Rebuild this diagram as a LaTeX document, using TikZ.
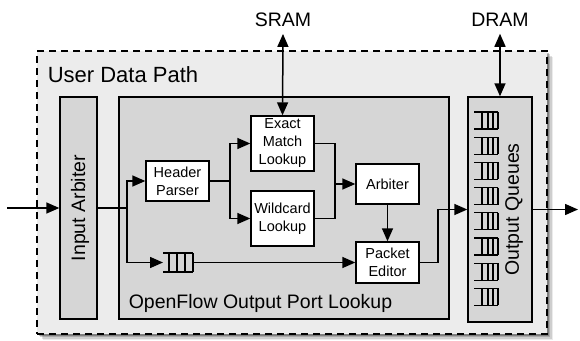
\documentclass[tikz,border=0pt]{standalone}
\usepackage{fontspec}
\setmainfont{Liberation Sans}
\usetikzlibrary{arrows.meta}
\definecolor{outerbg}{RGB}{236,236,236}
\definecolor{innerbg}{RGB}{214,214,214}
\begin{document}
\begin{tikzpicture}[x=1pt,y=-1pt,line width=1.5pt,
  lbl/.style={font=\fontsize{19.5}{23}\selectfont},
  title/.style={font=\fontsize{22}{26}\selectfont},
  bigbox/.style={draw=black,fill=innerbg,line width=1.4pt,inner sep=0pt},
  smallbox/.style={draw=black,fill=white,line width=1.4pt,inner sep=0pt,
    minimum width=63pt,align=center,font=\fontsize{14.5}{18}\selectfont},
  arr/.style={-{Triangle[length=13pt,width=11pt]}},
  dbl/.style={{Triangle[length=13pt,width=11pt]}-{Triangle[length=13pt,width=11pt]}},
  qline/.style={line width=1.3pt}]
\useasboundingbox (0,0) rectangle (580,340);
% shadow
\foreach \d/\o in {6/0.08,4.5/0.12,3/0.18,1.5/0.25}
  \fill[black,opacity=\o] (37+\d,51+\d) rectangle (547+\d,334+\d);
% outer dashed box
\node[draw=black,fill=outerbg,dash pattern=on 7pt off 5pt,line width=1.4pt,
  minimum width=510pt,minimum height=283pt,inner sep=0pt] (udp) at (292,192.5) {};
\node[title,anchor=base west,inner sep=0pt] (udpl) at (47,82) {User Data Path};
% big blocks
\node[bigbox,minimum width=37pt,minimum height=222pt] (ia) at (78.5,208) {};
\node[lbl,rotate=90] (ial) at (80,208) {Input Arbiter};
\node[bigbox,minimum width=330pt,minimum height=222pt] (of) at (284,208) {};
\node[lbl,anchor=base west,inner sep=0pt] (ofl) at (128,308) {OpenFlow Output Port Lookup};
\node[bigbox,minimum width=64pt,minimum height=225pt] (oq) at (500,209.5) {};
\node[lbl,rotate=90] (oql) at (514,209.5) {Output Queues};
% output queue icons
\foreach \i in {0,...,7}{
  \pgfmathsetmacro{\t}{112+25.2*\i}
  \draw[qline] (474,\t) -- (498,\t) (474,\t+17) -- (498,\t+17);
  \foreach \vx in {482,488,493,498} \draw[qline] (\vx,\t) -- (\vx,\t+17);
}
% small boxes
\node[smallbox,minimum height=40pt] (hp) at (177.5,181) {Header\\Parser};
\node[smallbox,minimum height=55pt] (em) at (282.5,143.5) {Exact\\Match\\Lookup};
\node[smallbox,minimum height=55pt] (wc) at (282.5,218.5) {Wildcard\\Lookup};
\node[smallbox,minimum height=40pt] (ab) at (387.5,184) {Arbiter};
\node[smallbox,minimum height=41pt] (pe) at (387.5,262.5) {Packet\\Editor};
% inline queue
\coordinate (qin) at (163,262.5);
\coordinate (qout) at (193,262.5);
\draw[qline] (163,253) -- (193,253) (163,272) -- (193,272);
\foreach \vx in {169,177,185,193} \draw[qline] (\vx,253) -- (\vx,272);
% memory labels
\node[lbl,anchor=base,inner xsep=0pt,inner ysep=7pt] (sram) at (283,26) {SRAM};
\node[lbl,anchor=base,inner xsep=0pt,inner ysep=7pt] (dram) at (500,26) {DRAM};
\draw[dbl] (sram.south) -- (em.north);
\draw[dbl] (dram.south) -- (oq.north);
% connectors
\coordinate (in) at (7,208);
\coordinate (j1) at (127,208);
\coordinate (j2) at (230,181);
\coordinate (j3) at (335,184);
\coordinate (j4) at (438,209.5);
\coordinate (out) at (578,209.5);
\draw[arr] (in) -- (ia.west);
\draw (ia.east) -- (j1);
\draw[arr] (j1) |- (hp.west);
\draw[arr] (j1) |- (qin);
\draw[arr] (qout) -- (pe.west);
\draw (hp.east) -- (j2);
\draw[arr] (j2) |- (em.west);
\draw[arr] (j2) |- (wc.west);
\draw (em.east) -| (j3);
\draw (wc.east) -| (j3);
\draw[arr] (j3) -- (ab.west);
\draw[arr] (ab.south) -- (pe.north);
\draw[arr] (pe.east) -| (j4) -- (oq.west);
\draw[arr] (oq.east) -- (out);
\end{tikzpicture}
\end{document}
